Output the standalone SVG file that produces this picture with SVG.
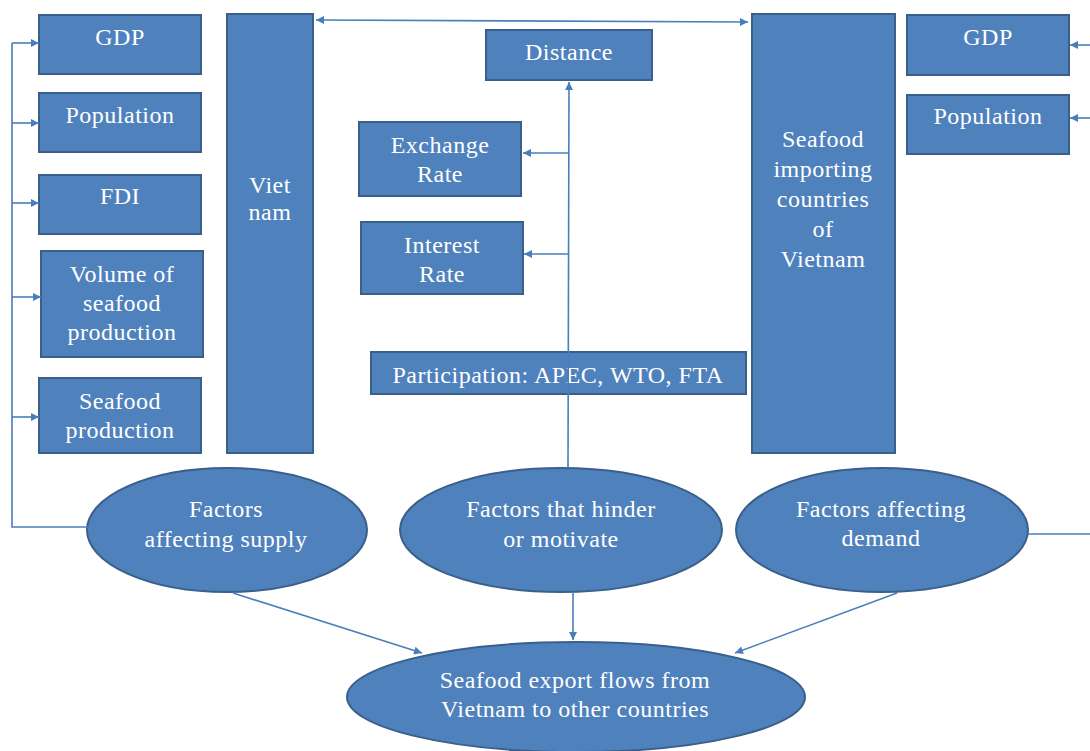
<svg xmlns="http://www.w3.org/2000/svg" width="1090" height="751" viewBox="0 0 1090 751">
<style>
.box{fill:#4F81BD;stroke:#3A5F8B;stroke-width:2}
.t{font-size:24px;letter-spacing:0.5px;fill:#FFFFFF;text-anchor:middle}
.c{fill:none;stroke:#4A7EBB;stroke-width:1.6}
.ca{fill:none;stroke:#4A7EBB;stroke-width:1.6;marker-end:url(#ah)}
</style>
<defs>
<marker id="ah" viewBox="0 0 10 10" refX="10" refY="5" markerWidth="9" markerHeight="8" markerUnits="userSpaceOnUse" orient="auto">
<path d="M0,0 L10,5 L0,10 z" fill="#4A7EBB"/>
</marker>
<marker id="ahs" viewBox="0 0 10 10" refX="0" refY="5" markerWidth="9" markerHeight="8" markerUnits="userSpaceOnUse" orient="auto">
<path d="M10,0 L0,5 L10,10 z" fill="#4A7EBB"/>
</marker>
</defs>
<rect width="1090" height="751" fill="#FFFFFF"/>
<g font-family="Liberation Serif, DejaVu Serif, serif">
<g id="gdp-left"><rect class="box" x="39" y="15" width="162" height="59"/><text class="t" x="120" y="45">GDP</text></g>
<g id="population-left"><rect class="box" x="39" y="93" width="162" height="59"/><text class="t" x="120" y="123">Population</text></g>
<g id="fdi"><rect class="box" x="39" y="175" width="162" height="59"/><text class="t" x="120" y="204">FDI</text></g>
<g id="volume"><rect class="box" x="41" y="251" width="162" height="106"/><text class="t" x="122" y="282">Volume of</text><text class="t" x="122" y="311">seafood</text><text class="t" x="122" y="340">production</text></g>
<g id="seafood-production"><rect class="box" x="39" y="378" width="162" height="75"/><text class="t" x="120" y="409">Seafood</text><text class="t" x="120" y="438">production</text></g>
<g id="vietnam"><rect class="box" x="227" y="14" width="86" height="439"/><text class="t" x="270" y="193">Viet</text><text class="t" x="270" y="220">nam</text></g>

<g id="distance"><rect class="box" x="486" y="30" width="166" height="50"/><text class="t" x="569" y="60">Distance</text></g>
<g id="exchange-rate"><rect class="box" x="359" y="122" width="162" height="74"/><text class="t" x="440" y="153">Exchange</text><text class="t" x="440" y="182">Rate</text></g>
<g id="interest-rate"><rect class="box" x="361" y="222" width="162" height="72"/><text class="t" x="442" y="253">Interest</text><text class="t" x="442" y="282">Rate</text></g>
<g id="participation"><rect class="box" x="371" y="352" width="375" height="42"/><text class="t" x="558" y="383">Participation: APEC, WTO, FTA</text></g>

<g id="importing"><rect class="box" x="752" y="14" width="143" height="439"/><text class="t" x="823" y="147">Seafood</text><text class="t" x="823" y="177">importing</text><text class="t" x="823" y="207">countries</text><text class="t" x="823" y="237">of</text><text class="t" x="823" y="267">Vietnam</text></g>
<g id="gdp-right"><rect class="box" x="907" y="15" width="162" height="60"/><text class="t" x="988" y="45">GDP</text></g>
<g id="population-right"><rect class="box" x="907" y="95" width="162" height="59"/><text class="t" x="988" y="124">Population</text></g>

<g id="supply"><ellipse class="box" cx="227" cy="530" rx="140" ry="62"/><text class="t" x="226" y="517">Factors</text><text class="t" x="226" y="547">affecting supply</text></g>
<g id="hinder"><ellipse class="box" cx="561" cy="530" rx="161" ry="62"/><text class="t" x="561" y="517">Factors that hinder</text><text class="t" x="561" y="547">or motivate</text></g>
<g id="demand"><ellipse class="box" cx="882" cy="530" rx="146" ry="62"/><text class="t" x="881" y="517">Factors affecting</text><text class="t" x="881" y="546">demand</text></g>
<g id="export-flows"><ellipse class="box" cx="576" cy="697" rx="229" ry="55"/><text class="t" x="575" y="688">Seafood export flows from</text><text class="t" x="575" y="717">Vietnam to other countries</text></g>
</g>
<g id="connectors">
<line class="c" x1="316" y1="20" x2="748" y2="22" marker-start="url(#ahs)" marker-end="url(#ah)"/>
<polyline class="c" points="88,527 12,527 12,43"/>
<line class="ca" x1="12" y1="43" x2="39" y2="43"/>
<line class="ca" x1="12" y1="123" x2="39" y2="123"/>
<line class="ca" x1="12" y1="203" x2="39" y2="203"/>
<line class="ca" x1="12" y1="297" x2="41" y2="297"/>
<line class="ca" x1="12" y1="417" x2="39" y2="417"/>
<line class="ca" x1="568" y1="468" x2="569" y2="82"/>
<line class="ca" x1="568" y1="153" x2="523" y2="153"/>
<line class="ca" x1="568" y1="254" x2="524" y2="254"/>
<line class="c" x1="1028" y1="534" x2="1090" y2="534"/>
<line class="ca" x1="1090" y1="45" x2="1070" y2="45"/>
<line class="ca" x1="1090" y1="118" x2="1070" y2="118"/>
<line class="ca" x1="233" y1="593" x2="422" y2="653"/>
<line class="ca" x1="573" y1="593" x2="573" y2="640"/>
<line class="ca" x1="897" y1="593" x2="735" y2="653"/>
</g>
</svg>
